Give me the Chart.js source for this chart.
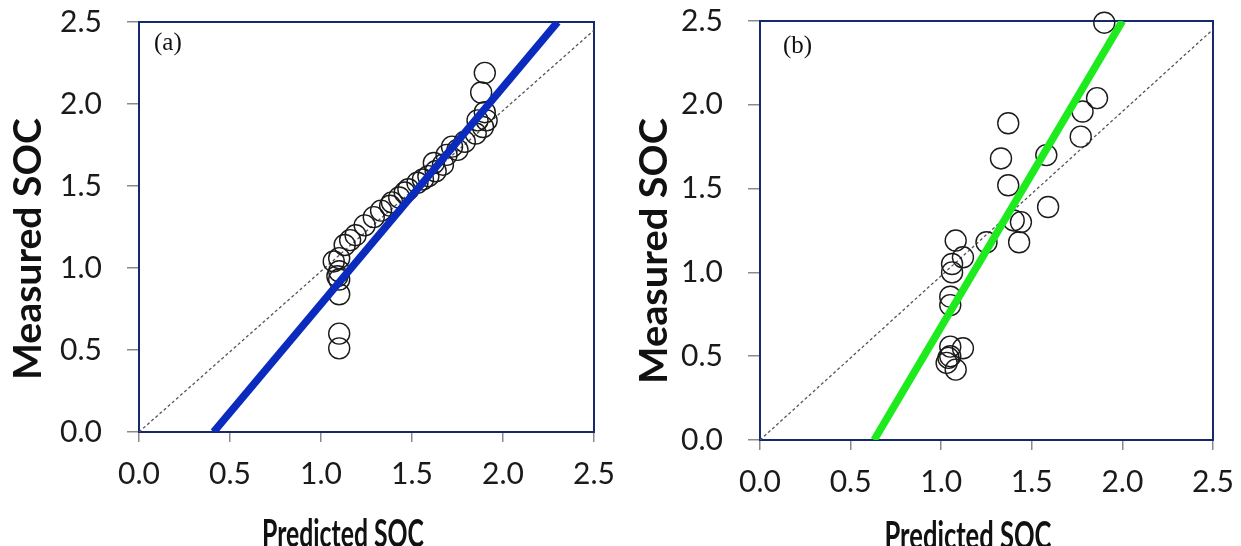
<!DOCTYPE html>
<html>
<head>
<meta charset="utf-8">
<script src="https://cdn.jsdelivr.net/npm/chart.js@4.4.1/dist/chart.umd.min.js"></script>
<style>
  html, body { margin: 0; padding: 0; background: #fff; }
  .panel { position: absolute; top: 0; }
</style>
</head>
<body>
<div class="panel" style="left:0px"><canvas id="chartA" width="620" height="546"></canvas></div>
<div class="panel" style="left:620px"><canvas id="chartB" width="621" height="546"></canvas></div>
<script>
// axis ticks
const tickValues = [0, 0.5, 1.0, 1.5, 2.0, 2.5];

// panel (a): predicted vs measured SOC
const predA = [1.90, 1.88, 1.90, 1.91, 1.89, 1.86, 1.85, 1.79, 1.75, 1.72, 1.69, 1.67, 1.62, 1.63,
    1.59, 1.56, 1.53, 1.48, 1.46, 1.43, 1.39, 1.38, 1.33, 1.29, 1.24, 1.19, 1.16, 1.13,
    1.10, 1.07, 1.10, 1.09, 1.10, 1.10, 1.10, 1.10];
const measA = [2.19, 2.07, 1.95, 1.90, 1.86, 1.90, 1.82, 1.77, 1.72, 1.74, 1.69, 1.63, 1.64, 1.59,
    1.56, 1.54, 1.52, 1.48, 1.46, 1.43, 1.40, 1.38, 1.35, 1.31, 1.26, 1.20, 1.17, 1.14,
    1.06, 1.04, 0.98, 0.95, 0.93, 0.84, 0.60, 0.51];
const fitA = [[0.41, 0], [2.30, 2.5]];

// panel (b)
const predB = [1.90, 1.86, 1.78, 1.77, 1.37, 1.33, 1.58, 1.37, 1.59, 1.44, 1.40, 1.43, 1.25,
    1.08, 1.12, 1.06, 1.06, 1.05, 1.05, 1.12, 1.05, 1.04, 1.08, 1.03, 1.05];
const measB = [2.49, 2.04, 1.96, 1.81, 1.89, 1.68, 1.70, 1.52, 1.39, 1.30, 1.31, 1.18, 1.18,
    1.19, 1.09, 1.05, 1.00, 0.855, 0.805, 0.547, 0.557, 0.49, 0.42, 0.46, 0.50];
const fitB = [[0.63, 0], [2.00, 2.5]];

const oneToOne = [[0, 0], [2.5, 2.45]];

const xTitle = "Predicted SOC";
const yTitle = "Measured SOC";

const navy = "#16296f";

const toPts = (xs, ys) => xs.map((x, i) => ({ x: x, y: ys[i] }));
const pairPts = (arr) => arr.map((p) => ({ x: p[0], y: p[1] }));

// frame around the plot area + panel letter + axis titles
const framePlugin = {
    id: "frame",
    beforeDatasetsDraw(chart, args, opts) {
        const a = chart.chartArea;
        const ctx = chart.ctx;
        ctx.save();
        ctx.strokeStyle = navy;
        ctx.lineWidth = 2;
        ctx.strokeRect(a.left, a.top, a.right - a.left, a.bottom - a.top);
        ctx.restore();
    },
    afterDraw(chart, args, opts) {
        const ctx = chart.ctx;
        const a = chart.chartArea;
        ctx.save();
        ctx.fillStyle = "#111";
        ctx.font = "25px 'Liberation Serif', serif";
        ctx.textBaseline = "alphabetic";
        ctx.fillText(opts.letter, a.left + opts.letterDx, a.top + opts.letterDy);

        // x title, squeezed to the width it has in the picture
        ctx.font = "bold 39px Lato, sans-serif";
        let w = ctx.measureText(xTitle).width;
        ctx.save();
        ctx.translate(opts.xTitleX, opts.xTitleY);
        ctx.scale(opts.xTitleLen / w, 1);
        ctx.textAlign = "center";
        ctx.fillText(xTitle, 0, 0);
        ctx.restore();

        // y title
        ctx.font = "bold 38px Lato, sans-serif";
        w = ctx.measureText(yTitle).width;
        ctx.save();
        ctx.translate(opts.yTitleX, opts.yTitleY);
        ctx.rotate(-Math.PI / 2);
        ctx.scale(opts.yTitleLen / w, 1);
        ctx.textAlign = "center";
        ctx.textBaseline = "middle";
        ctx.fillText(yTitle, 0, 0);
        ctx.restore();
        ctx.restore();
    },
};

function makeChart(id, pts, fit, fitColor, cfg) {
    const ctx = document.getElementById(id).getContext("2d");
    return new Chart(ctx, {
        type: "scatter",
        data: {
            datasets: [
                {
                    type: "line",
                    data: pairPts(oneToOne),
                    borderColor: "#555",
                    borderWidth: 1.3,
                    borderDash: [3, 2.5],
                    pointRadius: 0,
                    order: 3,
                },
                {
                    data: pts,
                    pointStyle: "circle",
                    pointRadius: 10.5,
                    borderColor: "#1a1a1a",
                    borderWidth: 1.4,
                    backgroundColor: "rgba(0,0,0,0)",
                    clip: false,
                    order: 2,
                },
                {
                    type: "line",
                    data: pairPts(fit),
                    borderColor: fitColor,
                    borderWidth: 7.5,
                    pointRadius: 0,
                    order: 1,
                },
            ],
        },
        options: {
            responsive: false,
            animation: false,
            events: [],
            layout: {
                padding: { left: 0, top: cfg.top, right: cfg.right, bottom: 0 },
            },
            scales: {
                x: {
                    type: "linear",
                    min: 0,
                    max: 2.5,
                    afterBuildTicks: (s) => {
                        s.ticks = tickValues.map((v) => ({ value: v }));
                    },
                    afterFit: (s) => {
                        s.height = cfg.xAxisH;
                        s.paddingLeft = 0;
                        s.paddingRight = 0;
                    },
                    grid: {
                        drawOnChartArea: false,
                        drawTicks: true,
                        tickLength: 10,
                        color: "#8a8a8a",
                        lineWidth: 1.5,
                    },
                    border: { display: false },
                    ticks: {
                        font: { family: "Lato", size: 30 },
                        color: "#1a1a1a",
                        padding: 14,
                        maxRotation: 0,
                        autoSkip: false,
                        callback: (v) => Number(v).toFixed(1),
                    },
                },
                y: {
                    type: "linear",
                    min: 0,
                    max: 2.5,
                    afterBuildTicks: (s) => {
                        s.ticks = tickValues.map((v) => ({ value: v }));
                    },
                    afterFit: (s) => {
                        s.width = cfg.yAxisW;
                        s.paddingTop = 0;
                        s.paddingBottom = 0;
                    },
                    grid: {
                        drawOnChartArea: false,
                        drawTicks: true,
                        tickLength: 12,
                        color: "#8a8a8a",
                        lineWidth: 1.5,
                    },
                    border: { display: false },
                    ticks: {
                        font: { family: "Lato", size: 30 },
                        color: "#1a1a1a",
                        padding: 25,
                        autoSkip: false,
                        callback: (v) => Number(v).toFixed(1),
                    },
                },
            },
            plugins: {
                legend: { display: false },
                tooltip: { enabled: false },
                frame: cfg.frame,
            },
        },
        plugins: [framePlugin],
    });
}

makeChart("chartA", toPts(predA, measA), fitA, "#0a2bbd", {
    top: 22,
    right: 26,
    xAxisH: 114,
    yAxisW: 139,
    frame: {
        letter: "(a)",
        letterDx: 15,
        letterDy: 28,
        xTitleX: 343,
        xTitleY: 547,
        xTitleLen: 162,
        yTitleX: 29,
        yTitleY: 249,
        yTitleLen: 262,
    },
});

makeChart("chartB", toPts(predB, measB), fitB, "#1eeb1e", {
    top: 21,
    right: 28,
    xAxisH: 106,
    yAxisW: 140,
    frame: {
        letter: "(b)",
        letterDx: 23,
        letterDy: 32,
        xTitleX: 348,
        xTitleY: 549,
        xTitleLen: 167,
        yTitleX: 35,
        yTitleY: 251,
        yTitleLen: 266,
    },
});
</script>
</body>
</html>
